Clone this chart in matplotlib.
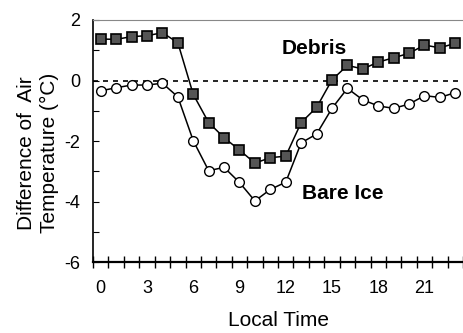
import numpy as np
import matplotlib
matplotlib.use('Agg')
import matplotlib.pyplot as plt

plt.rcParams['font.family'] = ['Liberation Sans', 'DejaVu Sans']

hours = list(range(24))
debris = [1.37, 1.36, 1.45, 1.48, 1.58, 1.25, -0.46, -1.39, -1.89, -2.30, -2.73, -2.55,
          -2.50, -1.39, -0.89, 0.02, 0.50, 0.38, 0.61, 0.75, 0.90, 1.17, 1.08, 1.23]
bare_ice = [-0.34, -0.24, -0.15, -0.15, -0.09, -0.54, -1.99, -2.98, -2.87, -3.37, -3.98, -3.60,
            -3.36, -2.06, -1.77, -0.92, -0.26, -0.64, -0.84, -0.92, -0.78, -0.50, -0.56, -0.40]
xtick_labels = [0, 3, 6, 9, 12, 15, 18, 21]
ytick_labels = [2, 0, -2, -4, -6]

fig = plt.figure(figsize=(4.63, 3.33), dpi=100)
ax = fig.add_axes([0.201, 0.213, 0.799, 0.727])

ax.axhline(0, color='black', lw=1.2, ls=(0, (3, 3)), zorder=1)
ax.plot(hours, debris, color='black', lw=1.1, marker='s', markersize=6.5,
        markerfacecolor='#555555', markeredgecolor='black', markeredgewidth=1.2, zorder=3)
ax.plot(hours, bare_ice, color='black', lw=1.1, marker='o', markersize=7,
        markerfacecolor='white', markeredgecolor='black', markeredgewidth=1.0, zorder=3)

ax.text(13.85, 1.05, 'Debris', fontsize=15, fontweight='bold', ha='center', va='center')
ax.text(15.7, -3.72, 'Bare Ice', fontsize=15, fontweight='bold', ha='center', va='center')

ax.set_xlim(-0.5, 23.5)
ax.set_ylim(-6, 2)
ax.set_xticks(xtick_labels)
ax.set_xticklabels([str(v) for v in xtick_labels], fontsize=13)
ax.set_xticks(np.arange(-0.5, 24, 1), minor=True)
ax.tick_params(axis='x', which='major', length=0, pad=13)
ax.tick_params(axis='x', which='minor', direction='inout', length=8, width=1)
ax.set_yticks(ytick_labels)
ax.set_yticklabels([str(v) for v in ytick_labels], fontsize=13)
ax.set_yticks(np.arange(-6, 2.1, 1), minor=True)
ax.tick_params(axis='y', which='both', direction='in', length=4, width=0.8, pad=9)

ax.spines['right'].set_visible(False)
ax.spines['top'].set_color('#888888')
ax.spines['top'].set_linewidth(0.8)
ax.spines['bottom'].set_linewidth(1.6)
ax.spines['left'].set_linewidth(1.2)

ax.set_xlabel('Local Time', fontsize=15, labelpad=10)
ax.set_ylabel('Difference of  Air\nTemperature (\u00b0C)', fontsize=15, linespacing=1.25)
ax.yaxis.set_label_coords(-0.092, 0.45)

fig.savefig('out.png', dpi=100)
